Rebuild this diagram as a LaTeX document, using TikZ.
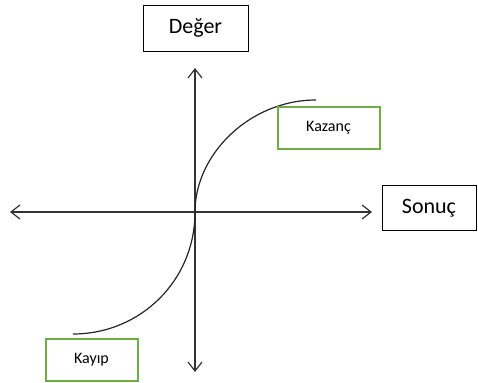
\documentclass[tikz,border=0pt]{standalone}
\usepackage{fontspec}
\setmainfont{Carlito}
\usetikzlibrary{arrows.meta,positioning,calc}
\definecolor{boxgreen}{RGB}{112,173,71}
\tikzset{
    axisbox/.style = {
        draw,
        fill=white,
        rectangle,
        line width=0.9pt,
        font=\fontsize{22}{26}\selectfont
    },
    labelbox/.style = {
        draw=boxgreen,
        fill=white,
        rectangle,
        line width=2pt,
        font=\fontsize{16}{19}\selectfont
    },
    axis/.style = {
        line width=1.2pt,
        draw=black!80,
        {Straight Barb[length=9pt,width=14pt]}-{Straight Barb[length=9pt,width=14pt]}
    }
}
\begin{document}
\begin{tikzpicture}[x=1pt,y=-1pt]
            \useasboundingbox (0,0) rectangle (478,382);
            % nodes
            \node [axisbox,minimum width=105pt,minimum height=46pt] (deger) at (195.5,28) {Değer\hspace{12pt}};
            \node [axisbox,minimum width=94pt,minimum height=45pt] (sonuc) at (429,208) {Sonuç};
            \coordinate (west) at (10,212);
            \coordinate (east) at (372,212);
            \coordinate (north) at (195,68);
            \coordinate (south) at (195,372);
            \coordinate (origin) at (195,212);
            \coordinate (gain) at (316,100);
            \coordinate (loss) at (73,334);

            % axes and curve
            \draw [axis] (west) -- (east);
            \draw [axis] (south) -- (north);
            \draw [line width=1.2pt,black!85] (loss) .. controls (140,334) and (195,281) .. (origin)
                .. controls (195,154) and (250,100) .. (gain);

            \node [labelbox,minimum width=102pt,minimum height=42pt] (kazanc) at (328.5,128) {Kazanç};
            \node [labelbox,minimum width=92pt,minimum height=42pt] (kayip) at (91.5,359.5) {Kayıp};
        \end{tikzpicture}
\end{document}
